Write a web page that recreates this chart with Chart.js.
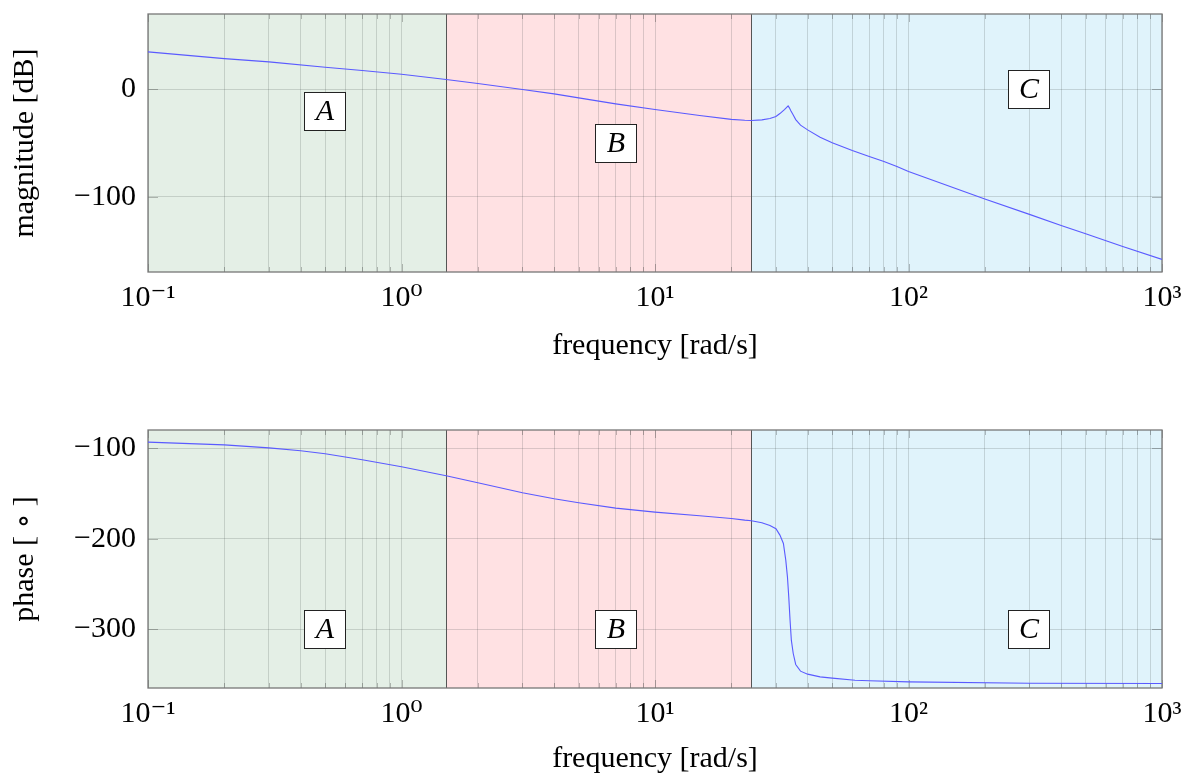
<!DOCTYPE html>
<html lang="en">
<head>
<meta charset="UTF-8">
<title>Bode plot - regions A, B, C</title>
<script src="https://cdn.jsdelivr.net/npm/chart.js"></script>
<style>
  body { margin: 0; background: #fff; }
  #wrap { position: relative; width: 1185px; height: 777px; }
  canvas { position: absolute; left: 0; }
</style>
</head>
<body>
<div id="wrap">
  <canvas id="magChart" width="1185" height="388" style="top:0"></canvas>
  <canvas id="phaseChart" width="1185" height="389" style="top:388px"></canvas>
</div>
<script>
// frequency axis + shaded regions
const decades = [0.1, 1, 10, 100, 1000];
const decadeLabels = ['10⁻¹', '10⁰', '10¹', '10²', '10³'];
const regionEdges = [0.1, 1.5, 24, 1000];
const regionNames = ['A', 'B', 'C'];
const regionColors = ['#e4efe6', '#ffe1e3', '#e0f3fb'];

// magnitude [dB]
const magFreq = [0.1, 0.2, 0.3, 0.5, 0.7, 1, 1.5, 2, 3, 4, 5, 7, 10, 15, 20, 22.6, 24, 26.4, 28.4, 30,
  31.1, 32.4, 33, 33.5, 33.9, 34.3, 35.1, 35.9, 37.5, 40, 44.8, 50, 60, 70, 80, 90, 100, 200, 300, 400, 500, 700, 1000];
const magDb = [34.8, 28.5, 25.5, 20.5, 17.4, 14, 9, 5.3, -0.3, -4.3, -8, -13.6, -18.9, -24.4, -28, -28.9, -29.1, -28.5, -27.2, -25.4,
  -22.6, -18.9, -17, -15.5, -17.3, -19.8, -24, -28.2, -33.4, -37.8, -44.6, -49.8, -57, -62.5, -67.2, -71.9, -76.6, -102, -116.4, -126.7, -134.4, -146.2, -158.3];
const magTicks = [-100, 0];
const magLabelX = [0.5, 7, 300];
const magLabelY = [-20, -50, 0];

// phase [deg]
const phaseFreq = [0.1, 0.2, 0.3, 0.4, 0.5, 0.7, 1, 1.5, 2, 3, 4, 5, 7, 10, 15, 20, 22.6, 24, 26.4, 28.4,
  30, 31.1, 32.1, 32.8, 33.3, 33.7, 34.1, 34.5, 35.1, 35.9, 37.5, 40, 44.8, 50, 61.5, 70, 100, 300, 1000];
const phaseDeg = [-93.4, -96.4, -99.7, -103, -106.3, -112.9, -120.6, -130.6, -138.3, -149.4, -156, -160.4, -166.3, -170.7, -174.8, -177.7, -179.6, -180.3, -182.5, -185.4,
  -189.1, -196.1, -205.3, -223.8, -242.2, -264.3, -290, -312.2, -326.9, -339, -346.4, -349.7, -352.7, -354.1, -356.4, -357, -358.2, -359.7, -360];
const phaseTicks = [-300, -200, -100];
const phaseLabelX = [0.5, 7, 300];
const phaseLabelY = [-300, -300, -300];

// minor + major grid positions on the log axis
const xTickValues = [];
decades.forEach((d, i) => {
  if (i === decades.length - 1) { xTickValues.push(d); return; }
  for (let k = 1; k <= 9; k++) xTickValues.push(k === 1 ? d : d * k);
});

const font = { family: "'Liberation Serif', 'DejaVu Serif', serif", size: 30 };
const gridColor = 'rgba(60,70,70,0.19)';

const regionPlugin = {
  id: 'regions',
  beforeDraw(chart) {
    const { ctx, chartArea: a, scales: { x } } = chart;
    ctx.save();
    for (let i = 0; i < regionNames.length; i++) {
      const x0 = x.getPixelForValue(regionEdges[i]);
      const x1 = x.getPixelForValue(regionEdges[i + 1]);
      ctx.fillStyle = regionColors[i];
      ctx.fillRect(x0, a.top, x1 - x0, a.bottom - a.top);
    }
    ctx.restore();
  },
  beforeDatasetsDraw(chart) {
    const { ctx, chartArea: a, scales: { x, y } } = chart;
    ctx.save();
    // small tick marks inside the frame
    ctx.strokeStyle = 'rgba(0,0,0,0.25)';
    ctx.lineWidth = 1;
    xTickValues.forEach(v => {
      const px = Math.round(x.getPixelForValue(v)) + 0.5;
      const len = decades.includes(v) ? 8 : 5;
      ctx.beginPath();
      ctx.moveTo(px, a.bottom); ctx.lineTo(px, a.bottom - len);
      ctx.moveTo(px, a.top); ctx.lineTo(px, a.top + len);
      ctx.stroke();
    });
    y.ticks.forEach(t => {
      const py = Math.round(y.getPixelForValue(t.value)) + 0.5;
      ctx.beginPath();
      ctx.moveTo(a.left, py); ctx.lineTo(a.left + 10, py);
      ctx.moveTo(a.right, py); ctx.lineTo(a.right - 10, py);
      ctx.stroke();
    });
    // region borders
    ctx.strokeStyle = '#555';
    for (let i = 1; i < regionEdges.length - 1; i++) {
      const px = Math.round(x.getPixelForValue(regionEdges[i])) + 0.5;
      ctx.beginPath();
      ctx.moveTo(px, a.top); ctx.lineTo(px, a.bottom);
      ctx.stroke();
    }
    // frame
    ctx.strokeStyle = '#777';
    ctx.lineWidth = 1.3;
    ctx.strokeRect(a.left, a.top, a.right - a.left, a.bottom - a.top);
    ctx.restore();
  },
  afterDraw(chart, args, opts) {
    const { ctx, scales: { x, y } } = chart;
    ctx.save();
    ctx.font = "italic 30px 'Liberation Serif', 'DejaVu Serif', serif";
    ctx.textAlign = 'center';
    ctx.textBaseline = 'middle';
    regionNames.forEach((name, i) => {
      const cx = Math.round(x.getPixelForValue(opts.labelX[i]));
      const cy = Math.round(y.getPixelForValue(opts.labelY[i]));
      ctx.fillStyle = '#fff';
      ctx.fillRect(cx - 21, cy - 19, 42, 39);
      ctx.strokeStyle = '#222';
      ctx.lineWidth = 1;
      ctx.strokeRect(cx - 20.5, cy - 18.5, 41, 38);
      ctx.fillStyle = '#000';
      ctx.fillText(name, cx, cy + 1);
    });
    ctx.restore();
  }
};

function makeChart(id, freq, vals, yMin, yMax, yTicks, yTitle, labelX, labelY, padTop, xAxisH, titlePad) {
  const points = freq.map((f, i) => ({ x: f, y: vals[i] }));
  return new Chart(document.getElementById(id), {
    type: 'line',
    data: {
      datasets: [{
        data: points,
        borderColor: 'rgb(90,90,255)',
        borderWidth: 1.1,
        pointRadius: 0,
        tension: 0,
        fill: false
      }]
    },
    options: {
      responsive: false,
      animation: false,
      layout: { padding: { left: 0, right: 23, top: padTop, bottom: 0 } },
      plugins: {
        legend: { display: false },
        tooltip: { enabled: false },
        regions: { labelX: labelX, labelY: labelY }
      },
      scales: {
        x: {
          type: 'logarithmic',
          min: 0.1,
          max: 1000,
          afterBuildTicks: s => { s.ticks = xTickValues.map(v => ({ value: v })); },
          afterFit: s => {
            s.height = xAxisH;
            s.paddingLeft = 0;
            s.paddingRight = 0;
          },
          ticks: {
            autoSkip: false,
            maxRotation: 0,
            padding: 8,
            color: '#000',
            font: font,
            callback: v => {
              const i = decades.indexOf(v);
              return i >= 0 ? decadeLabels[i] : '';
            }
          },
          grid: { color: gridColor, drawTicks: false },
          border: { display: false },
          title: { display: true, text: 'frequency [rad/s]', color: '#000', font: font, padding: { top: 0, bottom: titlePad } }
        },
        y: {
          min: yMin,
          max: yMax,
          afterBuildTicks: s => { s.ticks = yTicks.map(v => ({ value: v })); },
          afterFit: s => {
            s.width = 148;
            s.paddingTop = 0;
            s.paddingBottom = 0;
          },
          ticks: {
            padding: 12,
            color: '#000',
            font: font,
            callback: v => String(v).replace('-', '\u2212')
          },
          grid: { color: gridColor, drawTicks: false },
          border: { display: false },
          title: { display: true, text: yTitle, color: '#000', font: font, padding: { top: 7, bottom: 0 } }
        }
      }
    },
    plugins: [regionPlugin]
  });
}

makeChart('magChart', magFreq, magDb, -170, 70, magTicks, 'magnitude [dB]', magLabelX, magLabelY, 14, 116, 24);
makeChart('phaseChart', phaseFreq, phaseDeg, -365, -80, phaseTicks, 'phase [ \u2218 ]', phaseLabelX, phaseLabelY, 42, 89, 0);
</script>
</body>
</html>
